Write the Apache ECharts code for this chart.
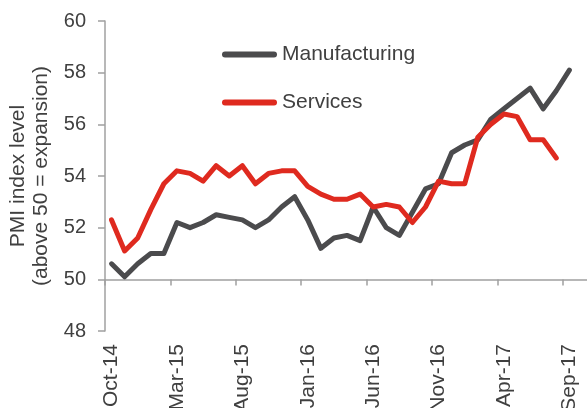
<!DOCTYPE html>
<html>
<head>
<meta charset="utf-8">
<script src="https://cdn.jsdelivr.net/npm/echarts@6/dist/echarts.min.js"></script>
<style>
  html, body { margin: 0; padding: 0; background: #fff; }
  #main { width: 587px; height: 408px; }
</style>
</head>
<body>
<div id="main"></div>
<script>
  // months Oct-14 .. Sep-17, plus one empty slot at the end
  var months = ['Oct-14','Nov-14','Dec-14','Jan-15','Feb-15','Mar-15','Apr-15','May-15','Jun-15','Jul-15','Aug-15','Sep-15',
    'Oct-15','Nov-15','Dec-15','Jan-16','Feb-16','Mar-16','Apr-16','May-16','Jun-16','Jul-16','Aug-16','Sep-16',
    'Oct-16','Nov-16','Dec-16','Jan-17','Feb-17','Mar-17','Apr-17','May-17','Jun-17','Jul-17','Aug-17','Sep-17','Oct-17']
  var manufacturing = [50.6,50.1,50.6,51.0,51.0,52.2,52.0,52.2,52.5,52.4,52.3,52.0,52.3,52.8,53.2,52.3,51.2,51.6,
    51.7,51.5,52.8,52.0,51.7,52.6,53.5,53.7,54.9,55.2,55.4,56.2,56.6,57.0,57.4,56.6,57.3,58.1]
  var services = [52.3,51.1,51.6,52.7,53.7,54.2,54.1,53.8,54.4,54.0,54.4,53.7,54.1,54.2,54.2,53.6,53.3,53.1,
    53.1,53.3,52.8,52.9,52.8,52.2,52.8,53.8,53.7,53.7,55.5,56.0,56.4,56.3,55.4,55.4,54.7]

  var font = 'Liberation Sans, Arial, sans-serif'
  var textColor = '#404040'
  var axisColor = '#a0a0a0'
  // legend line with rounded ends
  var lineIcon = 'path://M3,0 L52,0 A3,3 0 0 1 52,6 L3,6 A3,3 0 0 1 3,0 Z'

  var myChart = echarts.init(document.getElementById('main'))
  var option = {
    animation: false,
    textStyle: { fontFamily: font },
    legend: [
      {
        data: ['Manufacturing'], left: 222, top: 44, padding: 0, icon: lineIcon,
        itemWidth: 55, itemHeight: 6, itemGap: 6,
        textStyle: { fontSize: 21, color: textColor, fontFamily: font }
      },
      {
        data: ['Services'], left: 222, top: 92, padding: 0, icon: lineIcon,
        itemWidth: 55, itemHeight: 6, itemGap: 6,
        textStyle: { fontSize: 21, color: textColor, fontFamily: font }
      }
    ],
    grid: [
      { left: 105, right: -2, top: 21, bottom: 77, containLabel: false, outerBoundsMode: 'none' },
      // second grid only carries the x axis line that crosses at 50
      { left: 105, right: -2, top: 21, height: 258.5, containLabel: false, outerBoundsMode: 'none' }
    ],
    xAxis: [
      {
        type: 'category', gridIndex: 0, data: months, boundaryGap: true,
        axisLine: { show: false }, axisTick: { show: false },
        axisLabel: { interval: 4, rotate: 90, margin: 13, fontSize: 21, color: textColor, fontFamily: font }
      },
      {
        type: 'category', gridIndex: 1, data: months, boundaryGap: true,
        axisLine: { show: true, lineStyle: { color: axisColor, width: 1.5 } },
        axisTick: { show: true, interval: 4, length: 6, lineStyle: { color: axisColor, width: 1.5 } },
        axisLabel: { show: false }
      }
    ],
    yAxis: [
      {
        type: 'value', gridIndex: 0, min: 48, max: 60, interval: 2,
        splitLine: { show: false },
        axisLine: { show: true, lineStyle: { color: axisColor, width: 1.5 } },
        axisTick: { show: true, length: 7, lineStyle: { color: axisColor, width: 1.5 } },
        axisLabel: { fontSize: 20, color: textColor, margin: 19, fontFamily: font },
        name: 'PMI index level\n(above 50 = expansion)',
        nameLocation: 'middle', nameGap: 50,
        nameTextStyle: { fontSize: 21, color: textColor, lineHeight: 23, fontFamily: font }
      },
      { type: 'value', gridIndex: 1, min: 50, max: 60, show: false }
    ],
    series: [
      {
        name: 'Manufacturing', type: 'line', data: manufacturing, xAxisIndex: 0, yAxisIndex: 0,
        symbol: 'none', color: '#4b4b4d',
        lineStyle: { width: 5, color: '#4b4b4d', cap: 'round', join: 'round' }
      },
      {
        name: 'Services', type: 'line', data: services, xAxisIndex: 0, yAxisIndex: 0,
        symbol: 'none', color: '#df2a1f',
        lineStyle: { width: 5, color: '#df2a1f', cap: 'round', join: 'round' }
      }
    ]
  }
  myChart.setOption(option)
</script>
</body>
</html>
